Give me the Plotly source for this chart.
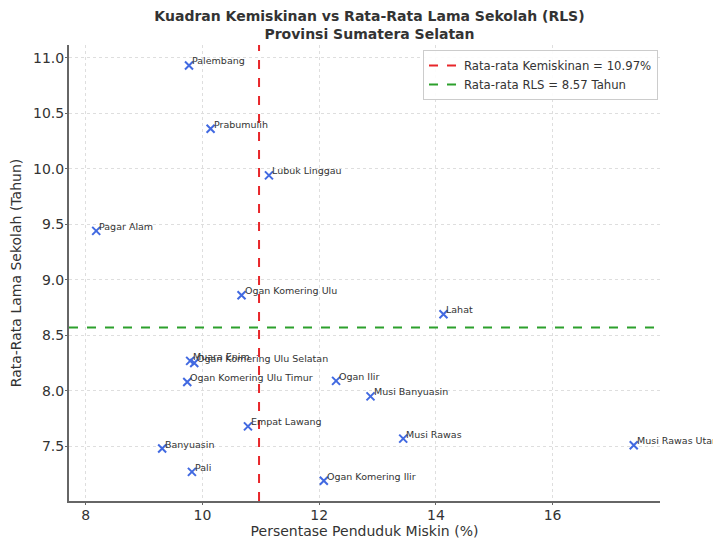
import plotly.graph_objects as go

regions = ["Palembang", "Prabumulih", "Lubuk Linggau", "Pagar Alam", "Ogan Komering Ulu",
           "Lahat", "Muara Enim", "Ogan Komering Ulu Selatan", "Ogan Komering Ulu Timur",
           "Ogan Ilir", "Musi Banyuasin", "Empat Lawang", "Musi Rawas", "Musi Rawas Utara",
           "Banyuasin", "Pali", "Ogan Komering Ilir"]
poverty = [9.77, 10.14, 11.14, 8.18, 10.67, 14.13, 9.79, 9.86, 9.74, 12.29, 12.88,
           10.78, 13.44, 17.39, 9.31, 9.82, 12.08]
rls = [10.93, 10.36, 9.94, 9.44, 8.86, 8.69, 8.27, 8.25, 8.08, 8.09, 7.95,
       7.68, 7.57, 7.51, 7.48, 7.27, 7.19]
mean_poverty = 10.97
mean_rls = 8.57

FONT = "DejaVu Sans"
X_RANGE = [7.714, 17.84]
Y_RANGE = [7.008, 11.114]

fig = go.Figure()
fig.add_trace(go.Scatter(
    x=poverty, y=rls, mode="markers", showlegend=False,
    marker=dict(symbol="x-thin", size=8, color="#4169E1",
                line=dict(width=2, color="#4169E1")),
))
fig.add_trace(go.Scatter(
    x=[mean_poverty, mean_poverty], y=Y_RANGE, mode="lines",
    name=f"Rata-rata Kemiskinan = {mean_poverty:.2f}%",
    line=dict(color="#e8262a", width=2, dash="dash"),
))
fig.add_trace(go.Scatter(
    x=X_RANGE, y=[mean_rls, mean_rls], mode="lines",
    name=f"Rata-rata RLS = {mean_rls:.2f} Tahun",
    line=dict(color="#2ca02c", width=2, dash="dash"),
))

for name, xv, yv in zip(regions, poverty, rls):
    fig.add_annotation(x=xv, y=yv, text=name, showarrow=False,
                       xanchor="left", yanchor="bottom", xshift=1, yshift=-3,
                       font=dict(family=FONT, size=9.5, color="#333333"))

W, H = 713, 532
AXIS_COMMON = dict(
    automargin=False, showgrid=True, gridcolor="#dedede", griddash="dot", gridwidth=1,
    showline=True, linecolor="#666666", linewidth=2,
    ticks="outside", ticklen=2, tickcolor="#666666", ticklabelstandoff=-2,
    tickfont=dict(family=FONT, size=14, color="#333333"), zeroline=False,
)
fig.update_layout(
    width=W, height=H,
    margin=dict(l=61, r=61, t=37, b=39, autoexpand=False),
    paper_bgcolor="white", plot_bgcolor="white",
    font=dict(family=FONT, color="#333333"),
    title=dict(text="<b>Kuadran Kemiskinan vs Rata-Rata Lama Sekolah (RLS)<br>Provinsi Sumatera Selatan</b>",
               x=0.507, xanchor="center", yref="container", y=1 - 12.5 / H, yanchor="top",
               font=dict(family=FONT, size=14, color="#333333")),
    legend=dict(x=0.599, y=0.989, xanchor="left", yanchor="top",
                bgcolor="rgba(255,255,255,0.9)", bordercolor="#cccccc", borderwidth=1,
                tracegroupgap=0, itemwidth=30,
                font=dict(family=FONT, size=11.7, color="#333333")),
    xaxis=dict(range=X_RANGE, tickvals=[8, 10, 12, 14, 16],
               title=dict(text="Persentase Penduduk Miskin (%)", standoff=4,
                          font=dict(family=FONT, size=14, color="#333333")),
               **AXIS_COMMON),
    yaxis=dict(range=Y_RANGE, tickvals=[7.5, 8.0, 8.5, 9.0, 9.5, 10.0, 10.5, 11.0],
               tickformat=".1f",
               title=dict(text="Rata-Rata Lama Sekolah (Tahun)", standoff=8,
                          font=dict(family=FONT, size=14, color="#333333")),
               **AXIS_COMMON),
)

fig.write_html("out.html")
